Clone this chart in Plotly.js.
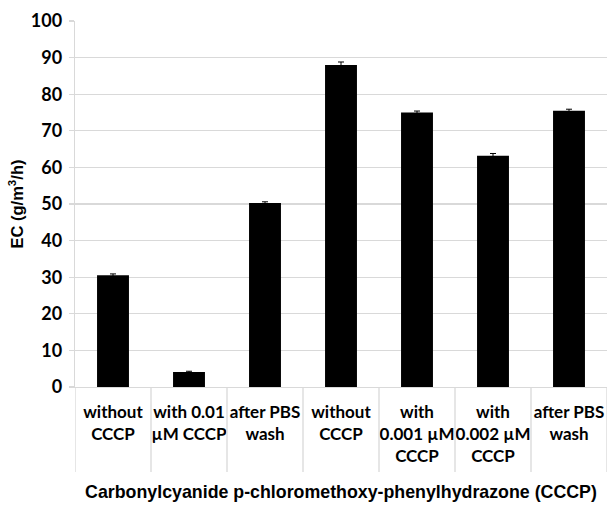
<!DOCTYPE html>
<html>
<head>
<meta charset="utf-8">
<script src="https://cdn.plot.ly/plotly-3.0.1.min.js"></script>
<style>html,body{margin:0;padding:0;background:#fff;}#chart{width:607px;height:506px;}</style>
</head>
<body>
<div id="chart"></div>
<script>
const categoryLabels = [
  "without<br>CCCP",
  "with 0.01<br>µM CCCP",
  "after PBS<br>wash",
  "without<br>CCCP",
  "with<br>0.001 µM<br>CCCP",
  "with<br>0.002 µM<br>CCCP",
  "after PBS<br>wash"
];
const ecValues = [30.5, 4.1, 50.3, 88.0, 75.0, 63.2, 75.5];
const ecErrors = [0.4, 0.2, 0.3, 0.8, 0.4, 0.6, 0.4];
const yTicks = [0, 10, 20, 30, 40, 50, 60, 70, 80, 90, 100];

const xIdx = categoryLabels.map((_, i) => i);

const trace = {
  type: 'bar',
  x: xIdx,
  y: ecValues,
  marker: {color: '#000000', line: {color: '#000000', width: 0}},
  error_y: {type: 'data', array: ecErrors, visible: true, color: '#000000', thickness: 1, width: 3},
  hoverinfo: 'none'
};

// category divider lines (Excel-style) below the axis
const dividers = [];
for (let i = 0; i <= categoryLabels.length; i++) {
  dividers.push({
    type: 'line', xref: 'x', yref: 'paper',
    x0: i - 0.5, x1: i - 0.5, y0: 0, y1: -0.232,
    line: {color: '#d9d9d9', width: 1.3}
  });
}

const layout = {
  width: 607, height: 506,
  margin: {l: 75, r: 0, t: 21, b: 119},
  paper_bgcolor: '#ffffff', plot_bgcolor: '#ffffff',
  bargap: 0.58,
  showlegend: false,
  xaxis: {
    range: [-0.5, categoryLabels.length - 0.5],
    tickmode: 'array', tickvals: xIdx, ticktext: categoryLabels,
    tickangle: 0,
    tickfont: {family: 'Lato, sans-serif', size: 17, color: '#000', weight: 'bold'},
    showgrid: false, zeroline: false,
    showline: true, linecolor: '#d9d9d9', linewidth: 1.3,
    ticks: '', ticklabelstandoff: 9,
    title: {text: '<b>Carbonylcyanide p-chloromethoxy-phenylhydrazone (CCCP)</b>',
            font: {family: 'Liberation Sans, Arial, sans-serif', size: 17.8, color: '#000'},
            standoff: 20}
  },
  yaxis: {
    range: [0, 100],
    tickmode: 'array', tickvals: yTicks,
    tickfont: {family: 'Lato, sans-serif', size: 18, color: '#000', weight: 'bold'},
    showgrid: true, gridcolor: '#d9d9d9', gridwidth: 1.3,
    zeroline: false,
    showline: true, linecolor: '#d9d9d9', linewidth: 1.3,
    ticks: 'outside', ticklen: 5, tickcolor: '#d9d9d9', tickwidth: 1.3,
    ticklabelstandoff: 3,
    title: {text: '<b>EC (g/m<sup>3</sup>/h)</b>',
            font: {family: 'Liberation Sans, Arial, sans-serif', size: 16.5, color: '#000'},
            standoff: 3}
  },
  shapes: dividers
};

Plotly.newPlot('chart', [trace], layout, {displayModeBar: false, staticPlot: true});
</script>
</body>
</html>
